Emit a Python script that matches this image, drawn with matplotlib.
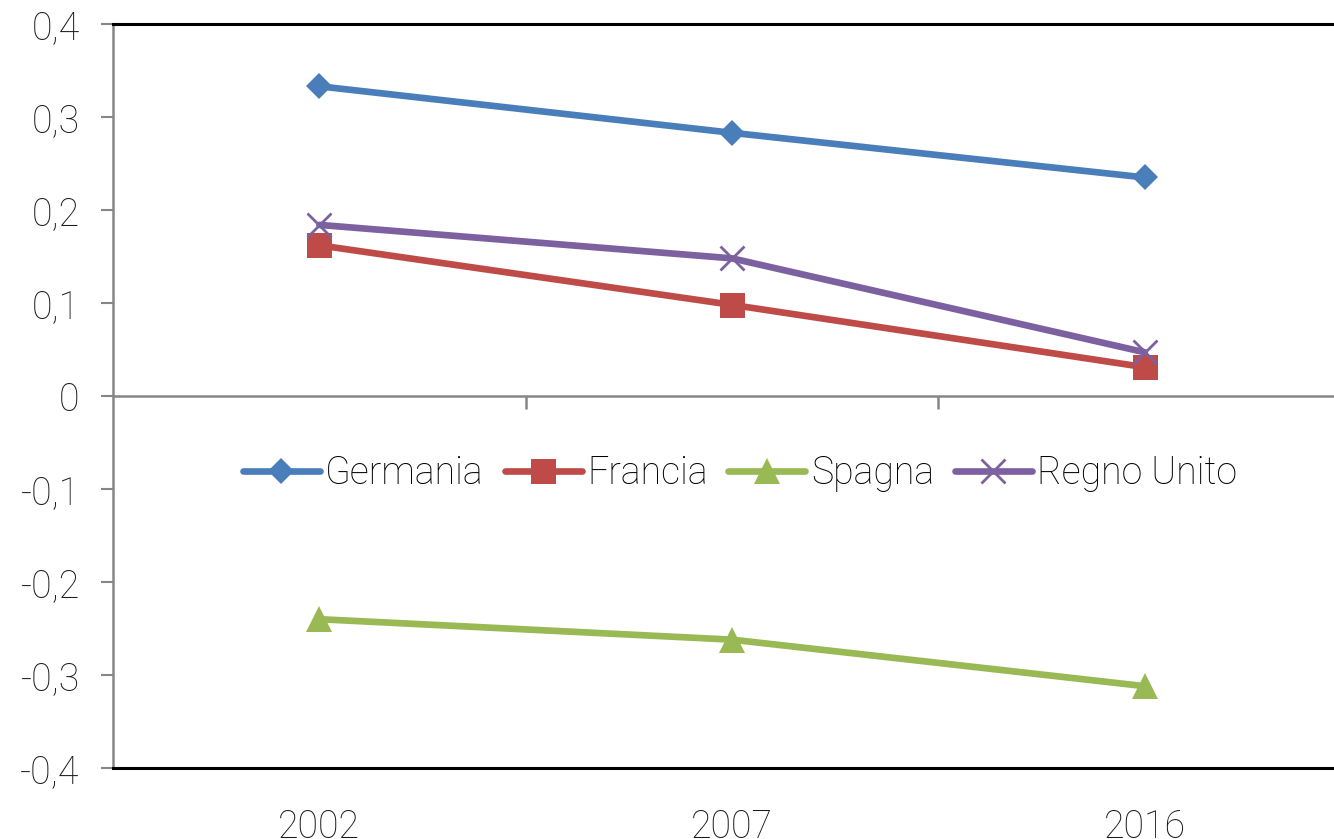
import matplotlib
matplotlib.use("Agg")
import matplotlib.pyplot as plt
from matplotlib.ticker import FixedLocator, FuncFormatter

plt.rcParams['font.family'] = ['Roboto', 'DejaVu Sans']
plt.rcParams['font.weight'] = 'light'

years = ["2002", "2007", "2016"]
germania = [0.333, 0.283, 0.235]
francia = [0.162, 0.098, 0.031]
spagna = [-0.240, -0.262, -0.312]
regno_unito = [0.184, 0.148, 0.047]

series = [
    ("Germania", germania, "#4A7EBB", "D", 13),
    ("Francia", francia, "#BE4B48", "s", 18),
    ("Spagna", spagna, "#98B954", "^", 19),
    ("Regno Unito", regno_unito, "#7D60A0", "x", 17),
]

fig = plt.figure(figsize=(13.34, 8.39), dpi=100)
ax = fig.add_axes([113 / 1334, 71 / 839, 1238 / 1334, 744 / 839])

x = list(range(len(years)))
for name, vals, color, marker, ms in series:
    kw = dict(markeredgewidth=2) if marker == "x" else dict(markeredgewidth=0)
    ax.plot(x, vals, color=color, lw=4.8, marker=marker, markersize=ms,
            solid_capstyle="round", label=name, **kw)

ax.set_xlim(-0.5, len(years) - 0.5)
ax.set_ylim(-0.4, 0.4)

# value axis
ax.yaxis.set_major_locator(FixedLocator([-0.4, -0.3, -0.2, -0.1, 0, 0.1, 0.2, 0.3, 0.4]))
ax.yaxis.set_major_formatter(FuncFormatter(
    lambda v, p: "0" if abs(v) < 1e-9 else f"{v:.1f}".replace(".", ",")))
ax.tick_params(axis="y", direction="out", length=9, width=1.5, color="#868686",
               labelsize=27, pad=15, labelcolor="#1a1a1a")

# category labels below the plot
ax.set_xticks(x)
ax.set_xticklabels(years)
ax.tick_params(axis="x", length=0, labelsize=27, pad=29, labelcolor="#1a1a1a")

for side in ("top", "bottom"):
    ax.spines[side].set_color("black")
    ax.spines[side].set_linewidth(2.2)
ax.spines["right"].set_visible(False)
ax.spines["left"].set_color("#868686")
ax.spines["left"].set_linewidth(1.8)

# category axis crossing at zero, with boundary ticks pointing down
sec = ax.secondary_xaxis(0.5)
sec.set_xticks([0.5, 1.5])
sec.tick_params(axis="x", direction="in", length=9, width=1.8, color="#868686",
                labelbottom=False, labeltop=False)
for sp in sec.spines.values():
    sp.set_color("#868686")
    sp.set_linewidth(1.8)
ax.set_zorder(1)

fig.legend(loc="center", bbox_to_anchor=(740 / 1334, 1 - 473 / 839), ncol=4,
           frameon=False, fontsize=27, handlelength=2.05, handletextpad=0.15,
           columnspacing=0.55, borderpad=0)

fig.savefig("out.png", dpi=100)
